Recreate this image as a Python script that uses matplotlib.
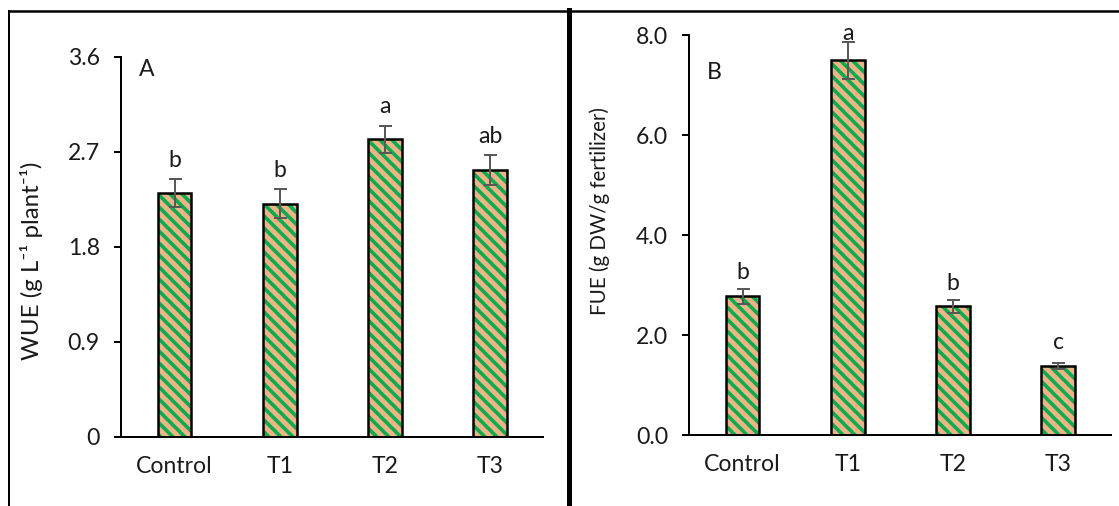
import matplotlib.pyplot as plt
from matplotlib.lines import Line2D

plt.rcParams['font.family'] = ['Lato', 'DejaVu Sans']
plt.rcParams['hatch.linewidth'] = 3.6

# data
treatments = ['Control', 'T1', 'T2', 'T3']
wue = [2.31, 2.21, 2.82, 2.53]
wue_err = [0.13, 0.14, 0.13, 0.14]
wue_letters = ['b', 'b', 'a', 'ab']
fue = [2.78, 7.50, 2.58, 1.39]
fue_err = [0.15, 0.37, 0.13, 0.06]
fue_letters = ['b', 'a', 'b', 'c']

orange = '#F4B183'
green = '#00B050'
txt = '#1a1a1a'

fig = plt.figure(figsize=(1119 / 72, 506 / 72), dpi=72)
ax1 = fig.add_axes([0.1081, 0.1364, 0.3771, 0.751])
ax2 = fig.add_axes([0.6157, 0.1403, 0.3771, 0.7905])


def panel(ax, vals, errs, letters, pads, ylim, ticks, ticklabels, ylabel, ylabel_size,
          label_y, tag, tag_y):
    x = range(len(treatments))
    # striped fill, then black outline on top
    ax.bar(x, vals, width=0.32, color=orange, edgecolor=green, linewidth=0, hatch='\\\\')
    ax.bar(x, vals, width=0.32, color='none', edgecolor='black', linewidth=2.5)
    ax.errorbar(x, vals, yerr=errs, fmt='none', ecolor='#595959', elinewidth=2,
                capsize=6.5, capthick=2)
    for i in x:
        ax.annotate(letters[i], (i, vals[i] + errs[i]), xytext=(0, pads[i]),
                    textcoords='offset points', ha='center', va='baseline',
                    fontsize=23, color=txt)
    ax.set_xlim(-0.51, 3.5)
    ax.set_ylim(*ylim)
    ax.set_yticks(ticks)
    ax.set_yticklabels(ticklabels)
    ax.set_xticks(list(x))
    ax.set_xticklabels(treatments)
    ax.tick_params(axis='y', length=7, width=2, pad=14, labelsize=23, labelcolor=txt)
    ax.tick_params(axis='x', length=0, pad=19, labelsize=23, labelcolor=txt)
    for s in ['top', 'right']:
        ax.spines[s].set_visible(False)
    for s in ['left', 'bottom']:
        ax.spines[s].set_linewidth(2)
    ax.set_ylabel(ylabel, fontsize=ylabel_size, color=txt)
    ax.yaxis.set_label_coords(-0.212, label_y)
    ax.yaxis.label.set_va('center')
    ax.text(0.043, tag_y, tag, transform=ax.transAxes, ha='left', va='center',
            fontsize=23, color=txt)


panel(ax1, wue, wue_err, wue_letters, [12, 12, 13, 12], (0, 3.6),
      [0, 0.9, 1.8, 2.7, 3.6], ['0', '0.9', '1.8', '2.7', '3.6'],
      'WUE (g L\u207b\u00b9 plant\u207b\u00b9)', 24, 0.463, 'A', 0.966)
panel(ax2, fue, fue_err, fue_letters, [10, 2, 10, 14], (0, 8),
      [0, 2, 4, 6, 8], ['0.0', '2.0', '4.0', '6.0', '8.0'],
      'FUE (g DW/g fertilizer)', 20.5, 0.56, 'B', 0.9075)

# outer frame lines of the composite figure
W, H = 1119, 506
fig.add_artist(Line2D([8.5 / W, 1], [1 - 10.5 / H, 1 - 10.5 / H], color='black', lw=2.5,
                      transform=fig.transFigure))
fig.add_artist(Line2D([9 / W, 9 / W], [0, 1 - 10.5 / H], color='black', lw=2,
                      transform=fig.transFigure))
fig.add_artist(Line2D([568.5 / W, 568.5 / W], [0, 1 - 9.5 / H], color='black', lw=5,
                      transform=fig.transFigure))

fig.savefig('out.png', dpi=72)
